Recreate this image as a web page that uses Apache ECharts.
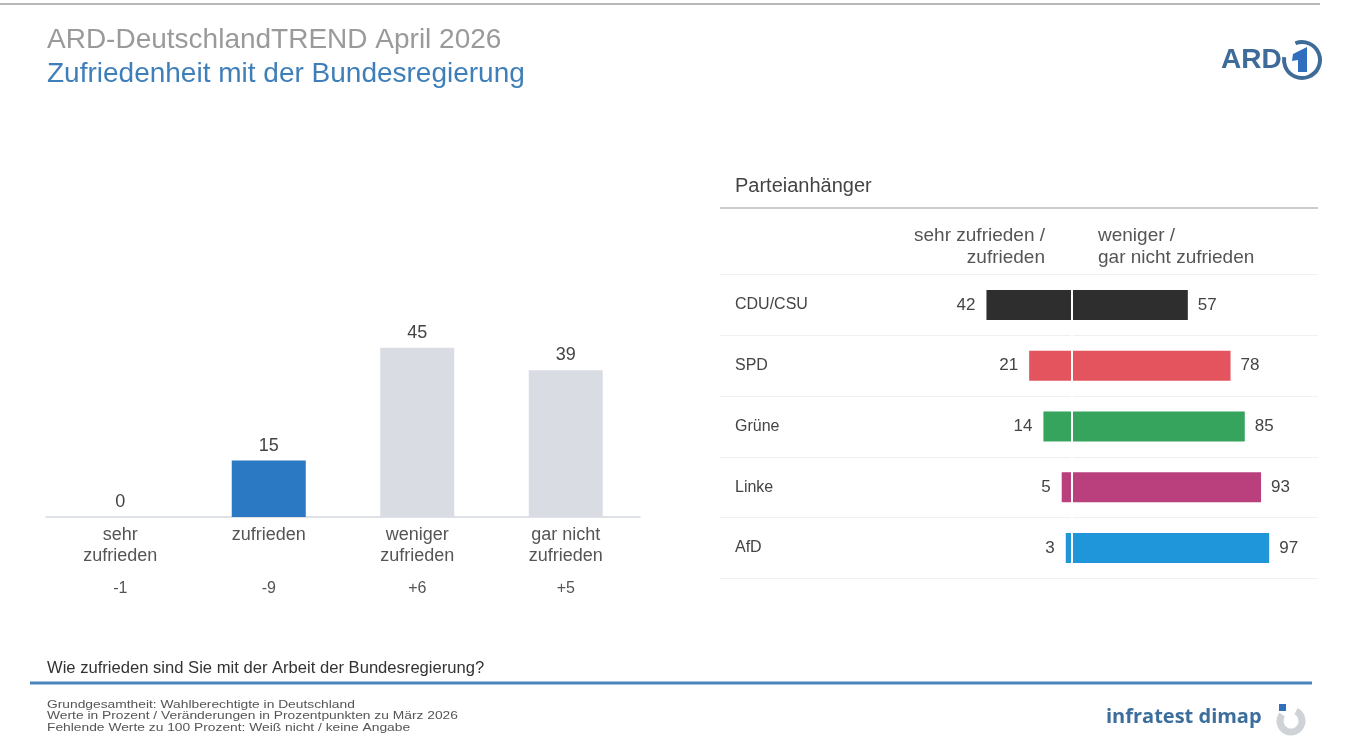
<!DOCTYPE html>
<html><head><meta charset="utf-8">
<script src="https://cdn.jsdelivr.net/npm/echarts@6/dist/echarts.min.js"></script>
<style>html,body{margin:0;padding:0;background:#fff}#c{width:1354px;height:747px}</style>
</head><body><div id="c"></div>
<script>
// ---- data ----
const categories = ['sehr\nzufrieden', 'zufrieden', 'weniger\nzufrieden', 'gar nicht\nzufrieden'];
const values = [0, 15, 45, 39];
const changes = ['-1', '-9', '+6', '+5'];
const parties = ['CDU/CSU', 'SPD', 'Grüne', 'Linke', 'AfD'];
const satisfied = [42, 21, 14, 5, 3];
const dissatisfied = [57, 78, 85, 93, 97];

// ---- styles ----
const FONT = '"Liberation Sans", Arial, sans-serif';
const barColors = ['#d9dde3', '#2c79c3', '#d9dde3', '#d9dde3'];
const partyColors = ['#2e2e2e', '#e4545e', '#36a45c', '#b9407d', '#1f96da'];

const chart = echarts.init(document.getElementById('c'), null, {renderer: 'canvas'});

const option = {
  backgroundColor: '#ffffff',
  animation: false,
  textStyle: {fontFamily: FONT},
  grid: [
    {left: 46, width: 594, top: 329, height: 188},
    {left: 720, width: 598, top: 274.6, height: 303.75}
  ],
  xAxis: [
    {type: 'category', gridIndex: 0, data: categories,
      axisLine: {lineStyle: {color: '#d4d8dd', width: 1.5}}, axisTick: {show: false},
      axisLabel: {color: '#555', fontSize: 18, lineHeight: 21, margin: 8, fontFamily: FONT}},
    {type: 'category', gridIndex: 0, data: changes, position: 'bottom', offset: 0,
      axisLine: {show: false}, axisTick: {show: false},
      axisLabel: {color: '#555', fontSize: 16, margin: 64, fontFamily: FONT}},
    {type: 'value', gridIndex: 1, min: -173, max: 121, show: false}
  ],
  yAxis: [
    {type: 'value', gridIndex: 0, min: 0, max: 50, show: false},
    {type: 'category', gridIndex: 1, data: parties, inverse: true,
      axisLine: {show: false}, axisTick: {show: false},
      axisLabel: {inside: true, margin: 15, align: 'left', color: '#444', fontSize: 16, fontFamily: FONT},
      splitLine: {show: true, lineStyle: {color: '#f0f0f0', width: 1}}}
  ],
  series: [
    {type: 'bar', xAxisIndex: 0, yAxisIndex: 0, data: values, barWidth: 74,
      itemStyle: {color: p => barColors[p.dataIndex]},
      label: {show: true, position: 'top', distance: 6, color: '#444', fontSize: 18, fontFamily: FONT}},
    {type: 'bar', xAxisIndex: 2, yAxisIndex: 1, stack: 'p', barWidth: 30,
      data: satisfied.map(v => -v),
      itemStyle: {color: p => partyColors[p.dataIndex]},
      label: {show: true, position: 'left', distance: 11, color: '#444', fontSize: 17, fontFamily: FONT,
        formatter: p => Math.abs(p.value)}},
    {type: 'bar', xAxisIndex: 2, yAxisIndex: 1, stack: 'p', barWidth: 30,
      data: dissatisfied,
      itemStyle: {color: p => partyColors[p.dataIndex]},
      label: {show: true, position: 'right', distance: 10, color: '#444', fontSize: 17, fontFamily: FONT},
      markLine: {silent: true, symbol: 'none', label: {show: false},
        lineStyle: {color: '#ffffff', width: 2, type: 'solid'}, data: [{xAxis: 0}]}}
  ],
  graphic: [
    {type: 'line', shape: {x1: 0, y1: 4, x2: 1320, y2: 4}, style: {stroke: '#888', lineWidth: 2, opacity: 0.6}},
    {type: 'text', left: 47, top: 26, style: {text: 'ARD-DeutschlandTREND April 2026', fill: '#9a9a9a', font: '28px ' + FONT}},
    {type: 'text', left: 47, top: 60, style: {text: 'Zufriedenheit mit der Bundesregierung', fill: '#3f7fb9', font: '28px ' + FONT}},
    // ARD logo
    {type: 'text', left: 1221, top: 46, style: {text: 'ARD', fill: '#3f6b98', font: 'bold 28px ' + FONT}},
    {type: 'arc', shape: {cx: 1302, cy: 60, r: 18, startAngle: -Math.PI * 0.62, endAngle: Math.PI * 1.05}, style: {stroke: '#3f6b98', lineWidth: 4, fill: null}},
    {type: 'polygon', shape: {points: [[1293, 54], [1307, 47], [1307, 72], [1298, 72], [1298, 60], [1292, 61]]}, style: {fill: '#2f6fbd'}},
    // right header
    {type: 'text', left: 735, top: 176, style: {text: 'Parteianhänger', fill: '#444', font: '20px ' + FONT}},
    {type: 'line', shape: {x1: 720, y1: 208, x2: 1318, y2: 208}, style: {stroke: '#9a9a9a', lineWidth: 1.2}},
    {type: 'text', x: 1045, y: 225, style: {text: 'sehr zufrieden /\nzufrieden', fill: '#555', font: '19px ' + FONT, align: 'right', lineHeight: 22}},
    {type: 'text', x: 1098, y: 225, style: {text: 'weniger /\ngar nicht zufrieden', fill: '#555', font: '19px ' + FONT, align: 'left', lineHeight: 22}},
    // question and footer
    {type: 'text', left: 47, top: 660, style: {text: 'Wie zufrieden sind Sie mit der Arbeit der Bundesregierung?', fill: '#333', font: '16.6px ' + FONT}},
    {type: 'line', shape: {x1: 30, y1: 683, x2: 1312, y2: 683}, style: {stroke: '#4a84bd', lineWidth: 3}},
    {type: 'text', x: 47, y: 699, scaleX: 1.2, style: {text: 'Grundgesamtheit: Wahlberechtigte in Deutschland\nWerte in Prozent / Veränderungen in Prozentpunkten zu März 2026\nFehlende Werte zu 100 Prozent: Weiß nicht / keine Angabe', fill: '#555', font: '11.5px ' + FONT, lineHeight: 11.5, verticalAlign: 'top'}},
    {type: 'text', left: 1106, top: 707, style: {text: 'infratest dimap', fill: '#3c6e9d', font: 'bold 20px "Open Sans", ' + FONT}},
    {type: 'arc', shape: {cx: 1291, cy: 721, r: 11, startAngle: -Math.PI * 0.35, endAngle: Math.PI * 1.2}, style: {stroke: '#cfd3d8', lineWidth: 7, fill: null}},
    {type: 'rect', shape: {x: 1279, y: 704, width: 7, height: 7}, style: {fill: '#2f6fbd'}}
  ]
};
chart.setOption(option);
</script>
</body></html>
